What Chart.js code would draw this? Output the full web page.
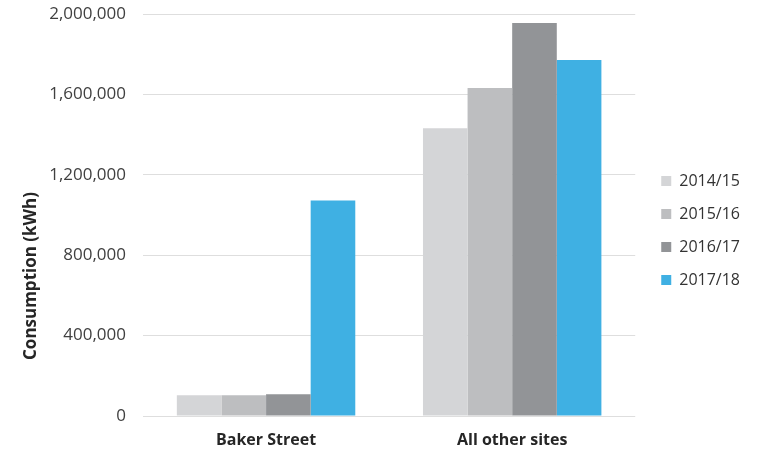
<!DOCTYPE html>
<html>
<head>
<meta charset="utf-8">
<script src="https://cdn.jsdelivr.net/npm/chart.js@4.4.0/dist/chart.umd.min.js"></script>
<style>
html,body{margin:0;padding:0;background:#fff}
</style>
</head>
<body>
<canvas id="chart" width="760" height="451"></canvas>
<script>
// consumption per site, one array per financial year
const sites=["Baker Street","All other sites"];
const years=["2014/15","2015/16","2016/17","2017/18"];
const kwh1415=[103000,1432000];
const kwh1516=[103000,1632000];
const kwh1617=[108000,1955000];
const kwh1718=[1072000,1771000];
const colours=["#d4d5d7","#bdbec0","#929497","#3fb0e3"];
const yMax=2000000, yStep=400000;

const series=[kwh1415,kwh1516,kwh1617,kwh1718];

// rotated axis caption, sits lower than the axis centre
const yTitle={id:"yTitle",afterDraw(c){
  const x=c.ctx; x.save();
  x.translate(31,276); x.rotate(-Math.PI/2);
  x.font="bold 17px 'Open Sans'"; x.fillStyle="#262626";
  x.textAlign="center"; x.textBaseline="middle";
  x.fillText("Consumption (kWh)",0,0);
  x.restore();
}};
// nudge legend a bit away from the plot
const legendNudge={id:"legendNudge",afterLayout(c){
  if(!c.legend) return;
  c.legend.left+=9; c.legend.right+=9;
  c.legend.top-=2; c.legend.bottom-=2;
}};

new Chart(document.getElementById("chart"),{
  type:"bar",
  data:{labels:sites,datasets:years.map((y,i)=>({label:y,data:series[i],backgroundColor:colours[i],borderWidth:0}))},
  options:{
    responsive:false,animation:false,
    layout:{padding:{top:14,right:19,bottom:0,left:0}},
    datasets:{bar:{categoryPercentage:0.725,barPercentage:1}},
    plugins:{
      tooltip:{enabled:false},
      legend:{position:"right",labels:{boxWidth:10,boxHeight:10,padding:17,color:"#333",font:{family:"'Open Sans'",size:16}}}
    },
    scales:{
      x:{grid:{display:false,drawTicks:false},border:{display:false},
         afterFit(s){s.height=35;},
         ticks:{padding:15,color:"#262626",font:{family:"'Open Sans'",size:16,weight:"bold"}}},
      y:{min:0,max:yMax,
         grid:{color:"#dedede",lineWidth:1,drawTicks:false},border:{display:false},
         afterFit(s){s.width=143; s.paddingTop=0; s.paddingBottom=0;},
         ticks:{stepSize:yStep,padding:17,color:"#404040",font:{family:"'Open Sans'",size:17},
                callback:v=>v.toLocaleString("en-GB")}}
    }
  },
  plugins:[yTitle,legendNudge]
});
</script>
</body>
</html>
